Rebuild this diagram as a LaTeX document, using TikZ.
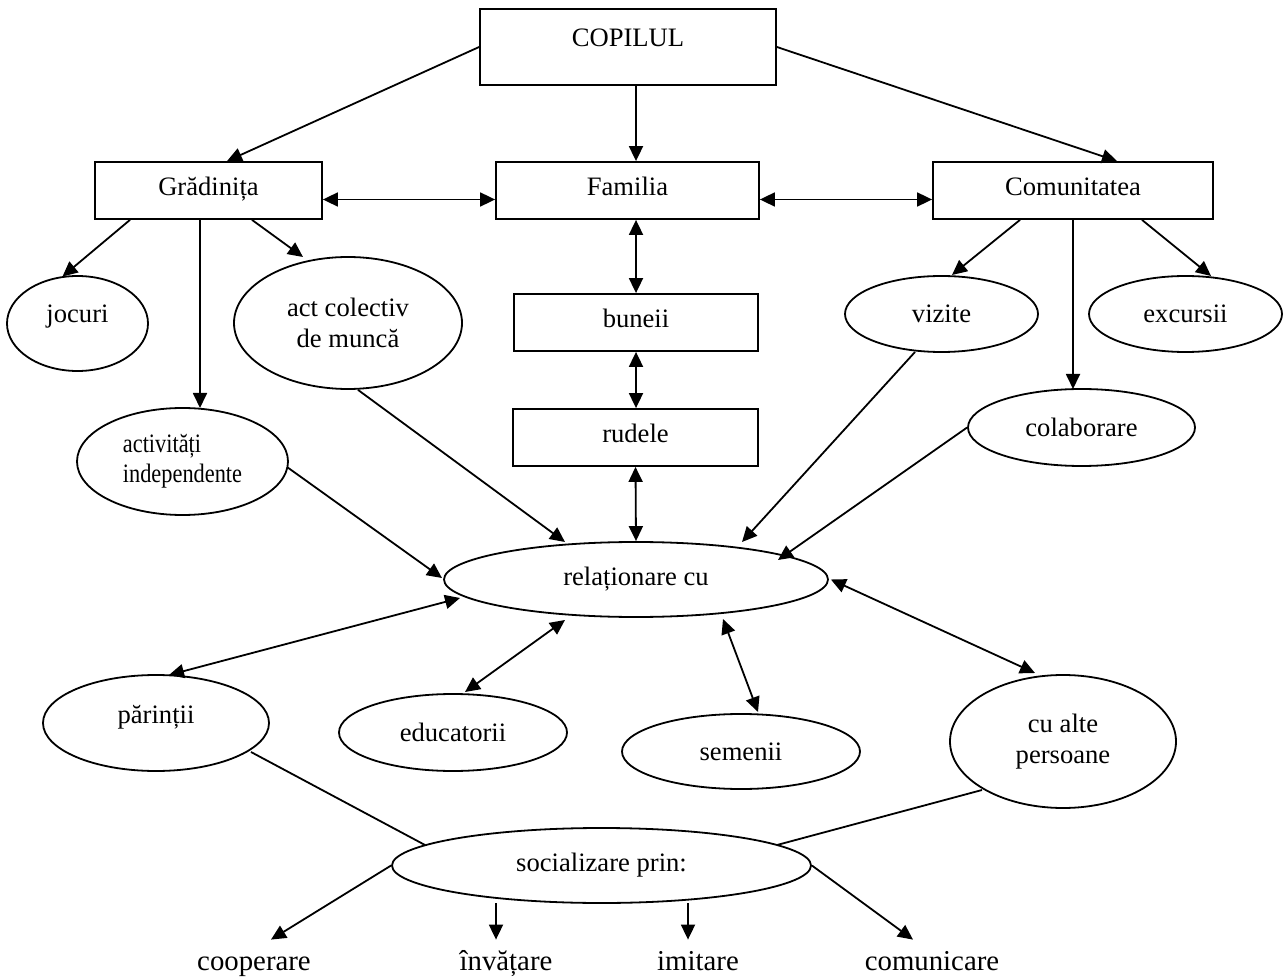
\documentclass[tikz,border=0pt]{standalone}
\usepackage{fontspec}
\usepackage{graphicx}
\setmainfont{Liberation Serif}
\usetikzlibrary{shapes.geometric,arrows.meta,calc}
\newcommand{\mainsz}{\fontsize{13.3pt}{15.5pt}\selectfont}
\newcommand{\indsz}{\fontsize{13.3pt}{15pt}\selectfont}
\newcommand{\labsz}{\fontsize{14.4pt}{17pt}\selectfont}
\tikzset{
  box/.style={draw, rectangle, line width=0.9pt, inner sep=0pt, font=\mainsz, text height=0.7em, text depth=0.2em},
  ell/.style={draw, ellipse, line width=0.9pt, inner sep=0pt, font=\mainsz, align=center},
  lab/.style={anchor=base, font=\labsz, inner xsep=0pt, inner ysep=5pt, text height=10pt, text depth=3pt},
  arr/.style={-{Triangle[length=7.5pt,width=7pt]}, line width=0.9pt},
  darr/.style={{Triangle[length=7.5pt,width=7pt]}-{Triangle[length=7.5pt,width=7pt]}, line width=0.9pt},
  ln/.style={line width=0.9pt}
}
\begin{document}
\begin{tikzpicture}[x=0.5pt,y=-0.5pt]
\fill[white] (0,0) rectangle (1285,978);
\useasboundingbox (0,0) rectangle (1285,978);

% boxes
\node[box, minimum width=148pt, minimum height=38pt, text height=9pt, text depth=9.5pt] (cop) at (628,47) {COPILUL};
\node[box, minimum width=113.5pt, minimum height=28.5pt] (grad) at (208.5,190.5) {Grădinița};
\node[box, minimum width=131.5pt, minimum height=28.5pt] (fam) at (627.5,190.5) {Familia};
\node[box, minimum width=140pt, minimum height=28.5pt] (com) at (1073,190.5) {Comunitatea};
\node[box, minimum width=122pt, minimum height=28.5pt] (bun) at (636,322.5) {buneii};
\node[box, minimum width=122.5pt, minimum height=28.5pt] (rud) at (635.5,437.5) {rudele};

% ellipses
\node[ell, minimum width=70.5pt, minimum height=47.5pt, text height=9pt, text depth=10pt] (joc) at (77.5,323.5) {jocuri};
\node[ell, minimum width=114pt, minimum height=66pt] (act) at (348,323) {act colectiv\\de muncă};
\node[ell, minimum width=105.5pt, minimum height=53.5pt, font=\indsz] (ind) at (182.5,461.5)
  {\scalebox{0.84}[1]{\begin{tabular}{@{}l@{}}activități\\independente\end{tabular}}};
\node[ell, minimum width=96.5pt, minimum height=38pt] (viz) at (941.5,314) {vizite};
\node[ell, minimum width=96.5pt, minimum height=38pt] (exc) at (1185.5,314) {excursii};
\node[ell, minimum width=113.5pt, minimum height=38.5pt] (col) at (1081.5,427.5) {colaborare};
\node[ell, minimum width=192pt, minimum height=37.5pt] (rel) at (636,579.5) {relaționare cu};
\node[ell, minimum width=113pt, minimum height=48pt, text height=9pt, text depth=9pt] (par) at (156,723) {părinții};
\node[ell, minimum width=114pt, minimum height=38.5pt] (edu) at (453,732.5) {educatorii};
\node[ell, minimum width=119pt, minimum height=37.5pt] (sem) at (741,751.5) {semenii};
\node[ell, minimum width=113pt, minimum height=66.5pt] (alt) at (1063,741.5) {cu alte\\persoane};
\node[ell, minimum width=209.5pt, minimum height=37.5pt] (soc) at (601.5,865.5) {socializare prin:};

% bottom labels
\node[lab] (coo) at (254,970) {cooperare};
\node[lab] (inv) at (506,970) {învățare};
\node[lab] (imi) at (698,970) {imitare};
\node[lab] (comu) at (932,970) {comunicare};

% connectors from COPILUL
\draw[arr] (cop.west) -- ($(grad.north)+(18.5,0)$);
\draw[arr] ($(cop.south)+(8,0)$) -- ($(fam.north)+(8.5,0)$);
\draw[arr] (cop.east) -- ($(com.north)+(44,0)$);

% horizontal links
\draw[darr] ($(grad.east)+(0,9)$) -- ($(fam.west)+(0,9)$);
\draw[darr] ($(fam.east)+(0,9)$) -- ($(com.west)+(0,9)$);

% Gradinita children
\draw[arr] ($(grad.south)+(-78.5,0)$) -- ($(joc)+(-15,-47)$);
\draw[arr] ($(grad.south)+(-8.5,0)$) -- ($(ind)+(17.5,-53.5)$);
\draw[arr] ($(grad.south)+(43.5,0)$) -- ($(act)+(-45,-66)$);

% Comunitatea children
\draw[arr] ($(com.south)+(-53,0)$) -- ($(viz)+(10.5,-39)$);
\draw[arr] (com.south) -- ($(col)+(-8.5,-38.5)$);
\draw[arr] ($(com.south)+(69,0)$) -- ($(exc)+(25.5,-38)$);

% family column
\draw[darr] ($(fam.south)+(8.5,0)$) -- (bun.north);
\draw[darr] (bun.south) -- (bun.south |- rud.north);
\draw[darr] (rud.south) -- (rel.north);

% into relationare
\draw[arr] ($(act.south)+(10,0)$) -- ($(rel)+(-71,-37.5)$);
\draw[arr] ($(ind)+(104.5,5.5)$) -- ($(rel)+(-194,-1.5)$);
\draw[arr] ($(viz)+(-26.5,38)$) -- ($(rel)+(106,-37.5)$);
\draw[arr] (col.west) -- ($(rel)+(142,-19.5)$);

% relationare with
\draw[darr] ($(rel)+(-176,18.5)$) -- ($(par)+(13,-48)$);
\draw[darr] ($(rel)+(-71,40.5)$) -- ($(edu)+(12,-40.5)$);
\draw[darr] ($(rel)+(87,39.5)$) -- ($(sem)+(17,-39.5)$);
\draw[darr] ($(rel.east)+(2,0)$) -- ($(alt)+(-28,-68.5)$);

% to socializare
\draw[ln] ($(par)+(95,29)$) -- ($(soc)+(-176.5,-20.5)$);
\draw[ln] ($(alt)+(-81,48.5)$) -- ($(soc)+(175.5,-20.5)$);

% socializare outputs
\draw[arr] (soc.west) -- ($(coo.north)+(17,0)$);
\draw[arr] ($(soc)+(-105.5,37.5)$) -- ($(inv.north)+(-10,0)$);
\draw[arr] ($(soc)+(86.5,37.5)$) -- ($(imi.north)+(-10,0)$);
\draw[arr] (soc.east) -- ($(comu.north)+(-19,0)$);
\end{tikzpicture}
\end{document}
